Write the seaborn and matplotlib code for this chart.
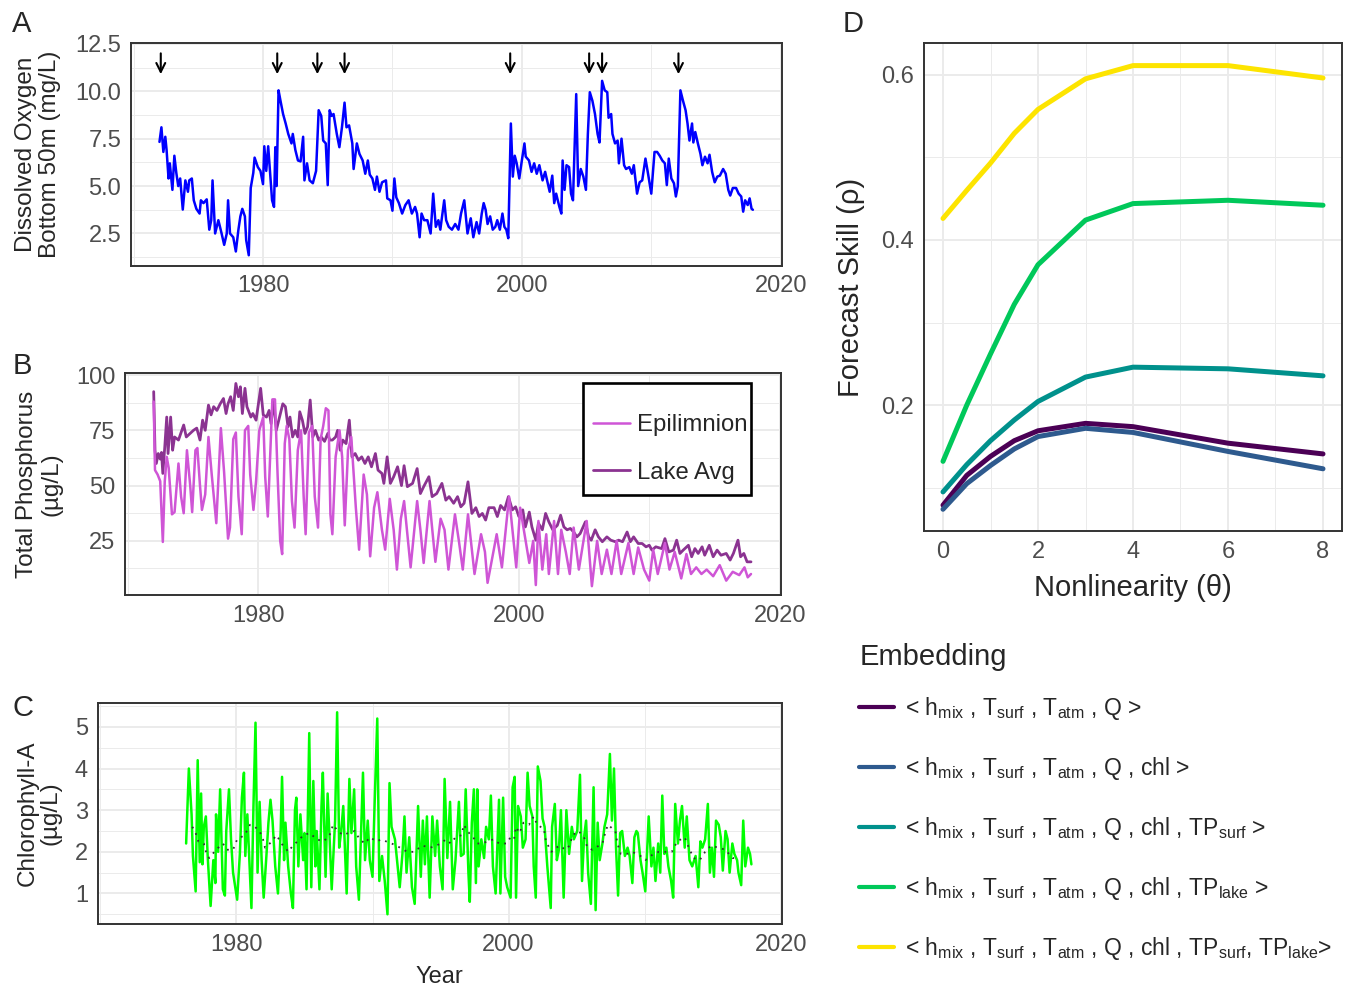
import numpy as np
import pandas as pd
import matplotlib
matplotlib.use('Agg')
import matplotlib.pyplot as plt
import seaborn as sns
from matplotlib.patches import Rectangle
from matplotlib.ticker import MultipleLocator, FormatStrFormatter

# Panel A - bottom water dissolved oxygen (year, mg/L)
do_series = np.array([
    (1972.0, 7.33), (1972.15, 8.1), (1972.3, 6.8), (1972.45, 7.6), (1972.55, 6.9), (1972.7, 5.4),
    (1972.8, 6.2), (1973.0, 4.8), (1973.15, 6.6), (1973.3, 5.7), (1973.45, 5.0), (1973.6, 5.4),
    (1973.8, 3.76), (1974.0, 5.3), (1974.2, 4.7), (1974.3, 5.3), (1974.5, 5.4), (1974.65, 4.25),
    (1974.85, 3.8), (1975.1, 3.55), (1975.2, 4.25), (1975.4, 4.1), (1975.65, 4.3), (1975.85, 2.7),
    (1976.0, 3.2), (1976.1, 5.3), (1976.3, 2.5), (1976.55, 3.2), (1976.8, 2.5), (1977.0, 1.9),
    (1977.2, 2.5), (1977.3, 4.25), (1977.45, 2.5), (1977.7, 2.3), (1977.9, 1.55), (1978.1, 2.7),
    (1978.25, 3.4), (1978.4, 3.8), (1978.6, 3.4), (1978.7, 2.15), (1978.9, 1.35), (1979.05, 4.9),
    (1979.25, 5.7), (1979.35, 6.5), (1979.6, 6.0), (1979.8, 5.8), (1980.0, 5.1), (1980.1, 7.1),
    (1980.25, 5.8), (1980.4, 7.1), (1980.55, 5.65), (1980.7, 4.25), (1980.85, 3.9), (1980.95, 7.05),
    (1981.05, 5.0), (1981.2, 10.05), (1981.35, 9.5), (1981.55, 8.8), (1981.75, 8.3), (1981.95, 7.75),
    (1982.2, 7.25), (1982.3, 7.75), (1982.5, 6.9), (1982.7, 6.35), (1982.9, 6.3), (1983.1, 7.6),
    (1983.2, 5.3), (1983.4, 6.2), (1983.6, 5.3), (1983.85, 5.15), (1984.1, 5.8), (1984.3, 9.0),
    (1984.5, 8.7), (1984.65, 7.4), (1984.85, 7.25), (1985.0, 5.05), (1985.15, 9.0), (1985.3, 8.7),
    (1985.45, 8.8), (1985.7, 7.75), (1985.9, 7.05), (1986.1, 8.1), (1986.3, 9.4), (1986.45, 8.1),
    (1986.65, 8.2), (1986.9, 7.25), (1987.0, 5.9), (1987.25, 7.25), (1987.45, 6.7), (1987.7, 6.35),
    (1987.9, 5.65), (1988.1, 6.35), (1988.25, 5.6), (1988.45, 5.4), (1988.65, 4.8), (1988.8, 5.5),
    (1989.0, 4.7), (1989.2, 5.2), (1989.5, 5.3), (1989.6, 4.35), (1989.85, 4.25), (1990.0, 3.7),
    (1990.15, 5.4), (1990.3, 4.4), (1990.5, 4.1), (1990.75, 3.55), (1991.0, 4.0), (1991.25, 4.25),
    (1991.5, 3.55), (1991.75, 3.9), (1991.9, 3.55), (1992.1, 2.3), (1992.25, 3.55), (1992.45, 3.2),
    (1992.7, 3.2), (1992.95, 2.5), (1993.15, 4.6), (1993.35, 2.85), (1993.55, 3.2), (1993.7, 2.7),
    (1994.0, 4.25), (1994.15, 3.2), (1994.35, 2.85), (1994.6, 2.7), (1994.85, 3.0), (1995.1, 2.7),
    (1995.3, 3.55), (1995.55, 4.25), (1995.8, 2.5), (1996.05, 3.3), (1996.25, 2.3), (1996.5, 3.1),
    (1996.7, 2.5), (1996.9, 3.55), (1997.05, 4.1), (1997.2, 3.75), (1997.35, 3.0), (1997.55, 3.4),
    (1997.75, 2.7), (1997.95, 2.85), (1998.1, 3.2), (1998.3, 2.7), (1998.5, 3.55), (1998.65, 2.85),
    (1998.8, 2.7), (1998.95, 2.25), (1999.15, 8.3), (1999.3, 5.5), (1999.45, 6.6), (1999.6, 6.2),
    (1999.8, 5.4), (2000.0, 6.35), (2000.2, 7.25), (2000.3, 6.55), (2000.55, 6.35), (2000.75, 5.75),
    (2000.95, 6.2), (2001.15, 5.65), (2001.35, 6.1), (2001.6, 5.3), (2001.8, 5.75), (2002.0, 5.15),
    (2002.15, 4.7), (2002.35, 5.55), (2002.5, 4.1), (2002.65, 4.6), (2002.9, 3.9), (2003.05, 3.55),
    (2003.15, 6.35), (2003.3, 4.8), (2003.45, 6.1), (2003.65, 6.0), (2003.8, 4.6), (2003.95, 4.25),
    (2004.2, 9.85), (2004.35, 5.0), (2004.55, 5.9), (2004.75, 5.5), (2004.95, 4.8), (2005.1, 7.75),
    (2005.25, 9.95), (2005.45, 9.5), (2005.65, 8.8), (2005.85, 7.75), (2006.0, 7.3), (2006.2, 10.55),
    (2006.4, 10.05), (2006.6, 9.95), (2006.7, 8.6), (2006.9, 8.8), (2007.0, 7.75), (2007.2, 7.25),
    (2007.4, 7.4), (2007.5, 6.2), (2007.7, 7.5), (2007.9, 6.1), (2008.05, 5.9), (2008.3, 6.0),
    (2008.5, 5.65), (2008.65, 6.1), (2008.9, 4.6), (2009.1, 5.2), (2009.3, 5.3), (2009.55, 6.45),
    (2009.75, 5.65), (2010.0, 4.6), (2010.25, 6.8), (2010.45, 6.8), (2010.65, 6.6), (2010.85, 6.35),
    (2011.05, 6.2), (2011.2, 5.05), (2011.35, 6.45), (2011.55, 5.4), (2011.75, 5.15), (2011.9, 4.45),
    (2012.05, 5.0), (2012.25, 10.05), (2012.45, 9.5), (2012.65, 9.0), (2012.8, 8.3), (2012.95, 7.4),
    (2013.15, 8.3), (2013.25, 7.3), (2013.4, 7.85), (2013.6, 7.25), (2013.8, 6.7), (2013.95, 6.1),
    (2014.15, 6.55), (2014.35, 6.2), (2014.5, 6.65), (2014.7, 5.75), (2014.9, 5.2), (2015.1, 5.5),
    (2015.3, 5.55), (2015.55, 5.9), (2015.75, 5.65), (2015.95, 4.8), (2016.1, 4.5), (2016.3, 4.9),
    (2016.55, 4.9), (2016.75, 4.6), (2016.95, 4.45), (2017.1, 3.65), (2017.25, 4.25), (2017.45, 4.0),
    (2017.6, 4.35), (2017.75, 3.8), (2017.85, 3.75),
])
mixing_years = [1972.1, 1981.1, 1984.2, 1986.3, 1999.1, 2005.2, 2006.2, 2012.1]

# Panel B - total phosphorus (year, ug/L)
tp_epi = np.array([
    (1972.0, 88), (1972.1, 57), (1972.3, 55), (1972.5, 52), (1972.7, 24.5), (1972.85, 52),
    (1973.0, 63), (1973.15, 58), (1973.4, 37), (1973.6, 38), (1973.9, 60), (1974.1, 45),
    (1974.3, 37.5), (1974.55, 66), (1974.8, 50), (1974.95, 38), (1975.2, 66), (1975.35, 67),
    (1975.55, 50), (1975.7, 39), (1975.95, 46), (1976.2, 72), (1976.45, 55), (1976.8, 33),
    (1977.0, 58), (1977.15, 76), (1977.4, 56), (1977.7, 26), (1977.85, 31), (1978.1, 71),
    (1978.3, 74), (1978.5, 45), (1978.75, 28), (1979.0, 75), (1979.25, 77), (1979.4, 55),
    (1979.65, 39), (1979.85, 52), (1980.1, 75), (1980.4, 81), (1980.55, 54), (1980.75, 36),
    (1980.95, 67), (1981.1, 89), (1981.3, 89), (1981.5, 55), (1981.7, 25), (1981.85, 19),
    (1982.05, 69), (1982.2, 77), (1982.4, 71), (1982.6, 43), (1982.8, 31), (1983.05, 66),
    (1983.3, 75), (1983.5, 45), (1983.65, 28), (1983.9, 74), (1984.15, 77), (1984.35, 45),
    (1984.6, 31), (1984.8, 71), (1985.0, 77), (1985.2, 85), (1985.4, 84), (1985.55, 37),
    (1985.7, 28), (1985.95, 63), (1986.25, 75), (1986.45, 63), (1986.65, 32), (1986.9, 66),
    (1987.15, 72), (1987.5, 40), (1987.75, 21), (1988.1, 55), (1988.35, 46), (1988.6, 18),
    (1988.9, 40), (1989.15, 47), (1989.5, 30), (1989.75, 21), (1990.1, 44), (1990.4, 30),
    (1990.65, 12), (1990.95, 35), (1991.2, 43), (1991.45, 28), (1991.7, 13), (1992.2, 43),
    (1992.45, 30), (1992.7, 15), (1993.15, 43), (1993.6, 15.5), (1994.0, 35), (1994.3, 30),
    (1994.6, 12), (1995.1, 37), (1995.4, 25), (1995.7, 12), (1996.1, 37), (1996.6, 10),
    (1997.1, 28), (1997.4, 20), (1997.6, 6), (1998.3, 28), (1998.7, 13), (1999.25, 45),
    (1999.8, 13), (2000.1, 40), (2000.8, 15), (2001.1, 25), (2001.3, 5), (2001.5, 34),
    (2001.8, 12), (2002.1, 28), (2002.3, 10), (2002.7, 34), (2003.0, 10), (2003.25, 30),
    (2003.6, 20), (2003.9, 10), (2004.2, 31), (2004.6, 12), (2005.2, 34), (2005.6, 4.5),
    (2006.0, 25), (2006.35, 10), (2006.75, 21), (2007.1, 10), (2007.5, 25), (2007.85, 10),
    (2008.4, 24), (2008.8, 10), (2009.15, 22), (2009.6, 12), (2010.0, 7), (2010.3, 21),
    (2010.65, 10), (2011.2, 24), (2011.55, 12), (2011.95, 20), (2012.45, 8), (2012.85, 19),
    (2013.2, 10), (2013.6, 13), (2014.0, 10), (2014.4, 12), (2014.9, 9), (2015.4, 14),
    (2015.9, 7), (2016.4, 11), (2016.9, 9.5), (2017.3, 13), (2017.55, 8.5), (2017.8, 10),
])
tp_lake = np.array([
    (1972.0, 92.5), (1972.1, 66), (1972.2, 60), (1972.35, 64.5), (1972.5, 62), (1972.6, 65),
    (1972.7, 55.5), (1972.85, 67.5), (1973.0, 81), (1973.1, 64.5), (1973.3, 81), (1973.45, 66),
    (1973.6, 72), (1973.9, 70.6), (1974.3, 77.4), (1974.5, 72), (1974.8, 73.6), (1975.05, 75),
    (1975.3, 76), (1975.55, 70.6), (1975.75, 79.6), (1975.95, 75), (1976.2, 86.4), (1976.4, 82),
    (1976.6, 85.7), (1976.85, 84), (1977.1, 87), (1977.35, 89.4), (1977.55, 82.6), (1977.7, 87),
    (1977.9, 90.2), (1978.1, 84), (1978.3, 96.2), (1978.5, 90.2), (1978.65, 94.7), (1978.8, 82.6),
    (1979.0, 94), (1979.15, 85.7), (1979.45, 81), (1979.6, 82.6), (1979.85, 79.6), (1980.05, 88),
    (1980.2, 94), (1980.4, 82), (1980.65, 81), (1980.85, 84), (1981.0, 78), (1981.2, 88.7),
    (1981.4, 75), (1981.65, 81), (1981.9, 87), (1982.1, 85.7), (1982.3, 76.6), (1982.45, 81),
    (1982.65, 72), (1982.85, 75), (1983.05, 72), (1983.2, 83.4), (1983.4, 79.6), (1983.6, 73.6),
    (1983.8, 76.6), (1984.0, 88.7), (1984.2, 72), (1984.4, 75), (1984.65, 70.6), (1984.85, 72),
    (1985.1, 70), (1985.35, 73.6), (1985.5, 70.6), (1985.7, 70.6), (1985.95, 72), (1986.1, 75),
    (1986.3, 66), (1986.5, 70.6), (1986.75, 69), (1987.0, 79.6), (1987.2, 63), (1987.45, 64.5),
    (1987.7, 61.5), (1987.95, 63), (1988.2, 60), (1988.45, 63), (1988.7, 58.5), (1989.0, 64.5),
    (1989.2, 57), (1989.5, 55.5), (1989.65, 51), (1989.9, 63), (1990.15, 51), (1990.4, 54),
    (1990.7, 58.5), (1991.0, 50), (1991.2, 59), (1991.45, 49.5), (1991.85, 51), (1992.2, 57.7),
    (1992.45, 46.4), (1992.7, 49.5), (1993.1, 54), (1993.35, 45), (1993.7, 46.4), (1994.1, 51),
    (1994.4, 43.4), (1994.65, 45), (1995.0, 42), (1995.3, 45), (1995.55, 40.4), (1995.8, 42),
    (1996.1, 51.7), (1996.4, 37.4), (1996.7, 40), (1996.95, 36), (1997.2, 37.4), (1997.45, 34.4),
    (1997.7, 40), (1998.1, 40), (1998.35, 36), (1998.6, 41), (1998.9, 39), (1999.2, 45),
    (1999.5, 39), (1999.75, 40.4), (2000.0, 36), (2000.3, 39), (2000.5, 31.3), (2000.8, 38),
    (2001.0, 31.3), (2001.3, 25.3), (2001.5, 33), (2001.8, 30), (2002.05, 37.4), (2002.3, 33.6),
    (2002.6, 30), (2002.95, 32), (2003.2, 36.6), (2003.45, 31.3), (2003.7, 30), (2003.95, 30.6),
    (2004.2, 29), (2004.45, 26.8), (2004.7, 28.3), (2005.1, 33.6), (2005.35, 26.8), (2005.55, 25.3),
    (2005.85, 30), (2006.1, 26.8), (2006.4, 24.6), (2006.75, 26.8), (2007.05, 25.3), (2007.4, 24.6),
    (2007.65, 25.3), (2007.95, 24.6), (2008.3, 29), (2008.55, 24.6), (2008.8, 26.8), (2009.15, 23.8),
    (2009.45, 23.8), (2009.75, 22.3), (2010.0, 23), (2010.2, 20.8), (2010.5, 22.3), (2010.95, 21.5),
    (2011.2, 26), (2011.5, 20), (2011.85, 20.8), (2012.1, 25.3), (2012.35, 19.3), (2012.6, 20.8),
    (2013.0, 23), (2013.25, 17.8), (2013.5, 21.5), (2013.75, 19.3), (2014.05, 22.3), (2014.25, 18.5),
    (2014.6, 23), (2014.9, 17.8), (2015.2, 20.8), (2015.5, 18.5), (2015.9, 19.3), (2016.2, 16.3),
    (2016.45, 19.3), (2016.8, 25.3), (2017.0, 17.8), (2017.25, 19.3), (2017.5, 15.5), (2017.8, 15.5),
])

# Panel C - chlorophyll-a (year, ug/L) and its running mean
chl_series = np.array([
    (1976.3, 2.2), (1976.5, 4.0), (1976.7, 2.9), (1976.8, 1.9), (1977.0, 1.05), (1977.15, 4.2),
    (1977.3, 1.75), (1977.4, 3.4), (1977.5, 1.7), (1977.6, 2.6), (1977.75, 2.85), (1977.9, 1.8),
    (1978.1, 0.7), (1978.3, 1.8), (1978.45, 1.25), (1978.5, 2.9), (1978.65, 2.0), (1978.8, 3.5),
    (1979.0, 1.1), (1979.15, 0.95), (1979.25, 2.5), (1979.45, 3.5), (1979.6, 2.3), (1979.75, 1.5),
    (1980.05, 0.85), (1980.25, 1.95), (1980.4, 3.3), (1980.55, 3.9), (1980.65, 1.9), (1980.8, 2.9),
    (1980.95, 1.8), (1981.1, 0.65), (1981.25, 3.1), (1981.4, 5.1), (1981.55, 1.5), (1981.7, 3.2),
    (1981.85, 1.8), (1982.0, 0.9), (1982.2, 1.9), (1982.35, 2.7), (1982.5, 3.25), (1982.65, 2.75),
    (1982.85, 1.65), (1983.05, 1.0), (1983.25, 2.5), (1983.35, 3.8), (1983.5, 1.8), (1983.6, 2.7),
    (1983.8, 1.65), (1984.0, 1.0), (1984.15, 0.65), (1984.3, 3.0), (1984.4, 3.3), (1984.55, 1.65),
    (1984.7, 2.9), (1984.9, 1.8), (1985.0, 2.45), (1985.15, 1.1), (1985.35, 4.85), (1985.5, 1.15),
    (1985.65, 3.7), (1985.8, 1.65), (1985.9, 2.5), (1986.1, 1.1), (1986.25, 3.1), (1986.35, 3.9),
    (1986.55, 1.4), (1986.7, 3.4), (1986.85, 2.3), (1987.0, 1.1), (1987.25, 2.75), (1987.4, 5.35),
    (1987.55, 2.1), (1987.7, 2.5), (1987.85, 3.1), (1988.1, 1.0), (1988.3, 3.75), (1988.45, 2.45),
    (1988.65, 3.5), (1988.8, 1.65), (1989.0, 0.85), (1989.2, 2.9), (1989.3, 3.9), (1989.45, 1.8),
    (1989.65, 2.75), (1989.8, 1.8), (1990.0, 1.4), (1990.15, 3.1), (1990.35, 5.2), (1990.5, 1.3),
    (1990.7, 1.9), (1990.9, 1.3), (1991.1, 0.5), (1991.25, 3.65), (1991.4, 2.6), (1991.65, 2.3),
    (1991.8, 1.8), (1992.0, 1.15), (1992.2, 1.95), (1992.35, 2.85), (1992.5, 1.5), (1992.7, 2.35),
    (1992.9, 1.15), (1993.1, 0.75), (1993.35, 3.1), (1993.55, 1.4), (1993.7, 2.75), (1993.85, 1.7),
    (1994.0, 2.85), (1994.2, 0.9), (1994.4, 2.85), (1994.6, 1.9), (1994.75, 2.75), (1994.95, 1.65),
    (1995.15, 1.1), (1995.3, 3.75), (1995.5, 1.85), (1995.7, 3.2), (1995.9, 1.1), (1996.1, 1.8),
    (1996.35, 3.2), (1996.5, 1.9), (1996.7, 1.95), (1996.85, 3.5), (1997.05, 1.5), (1997.15, 0.8),
    (1997.3, 2.7), (1997.45, 3.5), (1997.6, 1.25), (1997.7, 3.5), (1997.8, 1.65), (1998.0, 2.3),
    (1998.2, 1.85), (1998.35, 2.6), (1998.55, 2.3), (1998.7, 3.35), (1998.85, 1.65), (1999.05, 1.0),
    (1999.3, 3.25), (1999.4, 1.0), (1999.6, 3.3), (1999.75, 1.4), (1999.9, 1.15), (2000.15, 0.9),
    (2000.3, 3.55), (2000.45, 3.8), (2000.55, 0.9), (2000.7, 3.1), (2000.9, 2.85), (2001.05, 2.1),
    (2001.25, 2.3), (2001.4, 3.9), (2001.55, 3.1), (2001.75, 2.85), (2001.85, 1.65), (2002.0, 0.9),
    (2002.15, 4.05), (2002.35, 3.7), (2002.5, 2.8), (2002.65, 2.6), (2002.85, 1.65), (2003.1, 0.65),
    (2003.2, 2.6), (2003.4, 3.15), (2003.55, 1.8), (2003.7, 2.05), (2003.85, 3.0), (2004.05, 0.9),
    (2004.25, 3.0), (2004.45, 1.95), (2004.65, 2.6), (2004.8, 2.3), (2005.05, 2.5), (2005.25, 3.85),
    (2005.4, 1.3), (2005.55, 2.35), (2005.7, 2.75), (2005.85, 1.5), (2006.05, 0.75), (2006.25, 3.55),
    (2006.4, 0.6), (2006.55, 2.7), (2006.7, 1.8), (2006.9, 2.2), (2007.05, 2.6), (2007.25, 2.9),
    (2007.45, 4.35), (2007.6, 2.75), (2007.75, 4.0), (2007.9, 2.1), (2008.05, 0.95), (2008.2, 2.45),
    (2008.35, 2.5), (2008.55, 1.9), (2008.75, 2.1), (2008.9, 1.9), (2009.1, 1.25), (2009.25, 2.35),
    (2009.4, 2.5), (2009.5, 2.45), (2009.7, 1.8), (2009.85, 1.5), (2010.05, 1.05), (2010.3, 2.85),
    (2010.5, 1.65), (2010.65, 2.1), (2010.8, 1.3), (2011.0, 2.2), (2011.15, 1.5), (2011.3, 3.35),
    (2011.45, 1.95), (2011.6, 2.1), (2011.75, 1.65), (2011.95, 1.3), (2012.1, 0.9), (2012.25, 3.15),
    (2012.45, 2.2), (2012.6, 2.75), (2012.75, 3.1), (2012.95, 2.1), (2013.1, 2.85), (2013.3, 1.8),
    (2013.5, 1.65), (2013.75, 1.9), (2013.95, 1.15), (2014.1, 2.25), (2014.25, 2.1), (2014.45, 2.3),
    (2014.65, 3.15), (2014.8, 1.5), (2014.95, 2.1), (2015.1, 1.4), (2015.25, 2.75), (2015.45, 2.65),
    (2015.6, 2.35), (2015.75, 1.55), (2015.95, 2.5), (2016.1, 2.3), (2016.25, 1.5), (2016.45, 2.2),
    (2016.6, 1.95), (2016.8, 1.8), (2016.9, 1.5), (2017.1, 1.2), (2017.25, 2.75), (2017.4, 1.65),
    (2017.6, 2.1), (2017.75, 1.95), (2017.85, 1.7),
])
chl_mean = np.array([
    (1976.75, 2.6), (1976.95, 2.5), (1977.2, 2.25), (1977.6, 2.2), (1977.8, 1.95), (1978.0, 1.85),
    (1978.5, 2.05), (1979.0, 2.2), (1979.3, 2.05), (1979.75, 2.05), (1980.05, 2.3), (1980.6, 2.4),
    (1981.0, 2.65), (1981.35, 2.6), (1981.7, 2.5), (1981.95, 2.3), (1982.1, 2.1), (1982.45, 2.2),
    (1982.95, 2.4), (1983.3, 2.2), (1983.7, 2.05), (1983.8, 2.0), (1984.15, 2.15), (1984.65, 2.3),
    (1984.9, 2.4), (1985.4, 2.45), (1985.9, 2.3), (1986.4, 2.25), (1986.85, 2.4), (1987.1, 2.65),
    (1987.45, 2.5), (1987.85, 2.4), (1988.2, 2.45), (1988.7, 2.5), (1989.05, 2.3), (1989.45, 2.2),
    (1989.8, 2.35), (1990.3, 2.25), (1990.65, 2.3), (1991.0, 2.25), (1991.4, 2.2), (1991.75, 2.15),
    (1992.55, 2.0), (1993.05, 2.0), (1993.65, 2.15), (1994.25, 2.1), (1994.7, 2.15), (1995.0, 2.2),
    (1995.4, 2.3), (1995.75, 2.2), (1996.1, 2.35), (1996.55, 2.4), (1996.7, 2.65), (1997.1, 2.45),
    (1997.4, 2.35), (1997.7, 2.2), (1998.05, 2.2), (1998.45, 2.25), (1998.9, 2.3), (1999.3, 2.2),
    (1999.85, 2.2), (2000.15, 2.35), (2000.4, 2.3), (2000.55, 2.6), (2000.8, 2.45), (2001.1, 2.7),
    (2001.5, 2.65), (2001.85, 2.85), (2002.1, 2.65), (2002.6, 2.55), (2002.75, 2.25), (2003.15, 2.0),
    (2003.5, 2.1), (2003.8, 2.15), (2004.15, 2.05), (2004.5, 2.15), (2004.7, 2.4), (2005.15, 2.5),
    (2005.55, 2.35), (2005.8, 2.1), (2006.15, 2.05), (2006.65, 2.15), (2006.9, 2.2), (2007.1, 2.45),
    (2007.3, 2.65), (2007.85, 2.5), (2008.0, 2.2), (2008.25, 1.95), (2008.7, 1.95), (2009.1, 2.0),
    (2009.7, 1.9), (2010.05, 1.8), (2010.65, 1.95), (2011.05, 2.0), (2011.65, 2.0), (2012.0, 2.0),
    (2012.4, 2.25), (2012.95, 2.35), (2013.25, 2.1), (2013.6, 1.85), (2014.05, 1.8), (2014.45, 2.0),
    (2014.9, 2.15), (2015.4, 2.1), (2015.95, 2.05), (2016.45, 1.85), (2016.8, 1.85),
])

# Panel D - forecast skill vs nonlinearity for each embedding
theta = [0, 0.5, 1, 1.5, 2, 3, 4, 6, 8]
skill_base = [0.079, 0.115, 0.138, 0.157, 0.169, 0.178, 0.174, 0.154, 0.141]
skill_chl = [0.074, 0.105, 0.127, 0.147, 0.162, 0.172, 0.167, 0.144, 0.123]
skill_tpsurf = [0.095, 0.128, 0.157, 0.182, 0.2045, 0.234, 0.246, 0.244, 0.2355]
skill_tplake = [0.132, 0.200, 0.262, 0.322, 0.370, 0.424, 0.444, 0.448, 0.442]
skill_both = [0.426, 0.460, 0.493, 0.529, 0.558, 0.595, 0.611, 0.611, 0.596]
emb_labels = [
    '< $h_{mix}$ , $T_{surf}$ , $T_{atm}$ , Q >',
    '< $h_{mix}$ , $T_{surf}$ , $T_{atm}$ , Q , chl >',
    '< $h_{mix}$ , $T_{surf}$ , $T_{atm}$ , Q , chl , TP$_{surf}$ >',
    '< $h_{mix}$ , $T_{surf}$ , $T_{atm}$ , Q , chl , TP$_{lake}$ >',
    '< $h_{mix}$ , $T_{surf}$ , $T_{atm}$ , Q , chl , TP$_{surf}$, TP$_{lake}$>',
]
emb_colors = ['#4B0055', '#2E5A8E', '#00918C', '#00C85A', '#FDE400']

sns.set_style('white')
plt.rcParams['font.family'] = ['Liberation Sans', 'DejaVu Sans']
plt.rcParams['mathtext.fontset'] = 'custom'
plt.rcParams['mathtext.rm'] = 'Liberation Sans'
plt.rcParams['mathtext.default'] = 'regular'

W, H = 1366, 988
fig = plt.figure(figsize=(W / 100, H / 100), dpi=100)


def px_axes(left, top, right, bottom):
    return fig.add_axes([left / W, 1 - bottom / H, (right - left) / W, (bottom - top) / H])


def style_panel(ax, xmaj, xmin, ymaj, ymin):
    ax.set_facecolor('white')
    ax.xaxis.set_major_locator(MultipleLocator(xmaj))
    ax.xaxis.set_minor_locator(MultipleLocator(xmin))
    ax.yaxis.set_major_locator(MultipleLocator(ymaj))
    ax.yaxis.set_minor_locator(MultipleLocator(ymin))
    ax.grid(True, which='major', color='#EBEBEB', lw=1.4)
    ax.grid(True, which='minor', color='#EBEBEB', lw=0.7)
    ax.set_axisbelow(True)
    ax.tick_params(which='major', length=4, width=1.1, color='#333333',
                   labelsize=17, labelcolor='#4D4D4D', pad=3)
    ax.tick_params(which='minor', length=0)
    for s in ax.spines.values():
        s.set_visible(True)
        s.set_color('#333333')
        s.set_linewidth(1.4)


xlim_years = (1969.8, 2020.1)

# ---- A
axA = px_axes(131, 43.3, 782, 265.7)
sns.lineplot(x=do_series[:, 0], y=do_series[:, 1], ax=axA, color='#0000FF', lw=1.8,
             estimator=None, sort=False)
for yr in mixing_years:
    axA.annotate('', xy=(yr, 10.9), xytext=(yr, 12.0),
                 arrowprops=dict(arrowstyle='->', color='black', lw=1.5,
                                 shrinkA=0, shrinkB=0, mutation_scale=16))
axA.set_xlim(*xlim_years)
axA.set_ylim(0.8, 12.53)
style_panel(axA, 20, 10, 2.5, 1.25)
axA.yaxis.set_major_formatter(FormatStrFormatter('%.1f'))
axA.set_xlabel('')
axA.set_ylabel('Dissolved Oxygen\nBottom 50m (mg/L)', fontsize=17.5, linespacing=1.1)
axA.yaxis.set_label_coords((61 - 131) / 651, 0.5)

# ---- B
axB = px_axes(125, 373.3, 781, 595)
sns.lineplot(x=tp_lake[:, 0], y=tp_lake[:, 1], ax=axB, color='#8B3391', lw=2.0,
             estimator=None, sort=False, label='Lake Avg')
sns.lineplot(x=tp_epi[:, 0], y=tp_epi[:, 1], ax=axB, color='#CF55D6', lw=1.8,
             estimator=None, sort=False, label='Epilimnion')
axB.set_xlim(*xlim_years)
axB.set_ylim(0.5, 100.8)
style_panel(axB, 20, 10, 25, 12.5)
axB.set_xlabel('')
axB.set_ylabel('Total Phosphorus\n(µg/L)', fontsize=17.5, linespacing=1.1)
axB.yaxis.set_label_coords((62 - 125) / 656, 0.5)
hB, lB = axB.get_legend_handles_labels()
bw, bh = 656.0, 221.7
axB.add_patch(Rectangle(((583 - 125) / bw, 1 - (495 - 373.3) / bh), 168 / bw, 112 / bh,
                        transform=axB.transAxes, facecolor='white', edgecolor='black',
                        lw=1.9, zorder=4.5, clip_on=False))
legB = axB.legend(hB[::-1], lB[::-1], loc='upper left',
                  bbox_to_anchor=((586 - 125) / bw, 1 - (407 - 373.3) / bh),
                  borderaxespad=0, fontsize=17.2, frameon=False,
                  handlelength=1.55, handletextpad=0.3, labelspacing=1.07, borderpad=0.3)
legB.set_zorder(5)

# ---- C
axC = px_axes(97.7, 702.7, 782, 924.3)
sns.lineplot(x=chl_series[:, 0], y=chl_series[:, 1], ax=axC, color='#00FF00', lw=1.8,
             estimator=None, sort=False)
sns.lineplot(x=chl_mean[:, 0], y=chl_mean[:, 1], ax=axC, color='#333333', lw=1.3,
             estimator=None, sort=False, linestyle=(0, (1, 3)))
axC.set_xlim(*xlim_years)
axC.set_ylim(0.26, 5.58)
style_panel(axC, 20, 10, 1, 0.5)
axC.set_xlabel('Year', fontsize=17)
axC.xaxis.set_label_coords(0.5, -0.19)
axC.set_ylabel('Chlorophyll-A\n(µg/L)', fontsize=17.5, linespacing=1.1)
axC.yaxis.set_label_coords((62 - 97.7) / 684.3, 0.5)

# ---- D
axD = px_axes(924, 43.3, 1342, 531)
skill_df = pd.DataFrame({
    'theta': np.tile(theta, 5),
    'rho': np.concatenate([skill_base, skill_chl, skill_tpsurf, skill_tplake, skill_both]),
    'Embedding': np.repeat(emb_labels, len(theta)),
})
sns.lineplot(data=skill_df, x='theta', y='rho', hue='Embedding', hue_order=emb_labels,
             palette=emb_colors, lw=3.6, ax=axD)
axD.set_xlim(-0.4, 8.4)
axD.set_ylim(0.0477, 0.638)
style_panel(axD, 2, 1, 0.2, 0.1)
axD.yaxis.set_major_formatter(FormatStrFormatter('%.1f'))
axD.set_xlabel('Nonlinearity (θ)', fontsize=21)
axD.xaxis.set_label_coords(0.5, -0.088)
axD.set_ylabel('Forecast Skill (ρ)', fontsize=21)
axD.yaxis.set_label_coords((865 - 924) / 418, 0.5)
hD, lD = axD.get_legend_handles_labels()
axD.get_legend().remove()
for h in hD:
    h.set_linewidth(3.0)
fig.text(860 / W, 1 - 665 / H, 'Embedding', fontsize=21, ha='left', va='baseline')
fig.legend(hD, lD, loc='upper left',
           bbox_to_anchor=(859 / W, 1 - 695 / H), borderaxespad=0, borderpad=0,
           frameon=False, fontsize=16.5,
           handlelength=1.53, handletextpad=0.48, labelspacing=1.44)

# panel letters
for letter, (x, y) in zip('ABCD', [(12, 10), (13, 352), (13, 694), (843, 10)]):
    fig.text(x / W, 1 - y / H, letter, fontsize=21, ha='left', va='top')

fig.savefig('out.png', dpi=100)
